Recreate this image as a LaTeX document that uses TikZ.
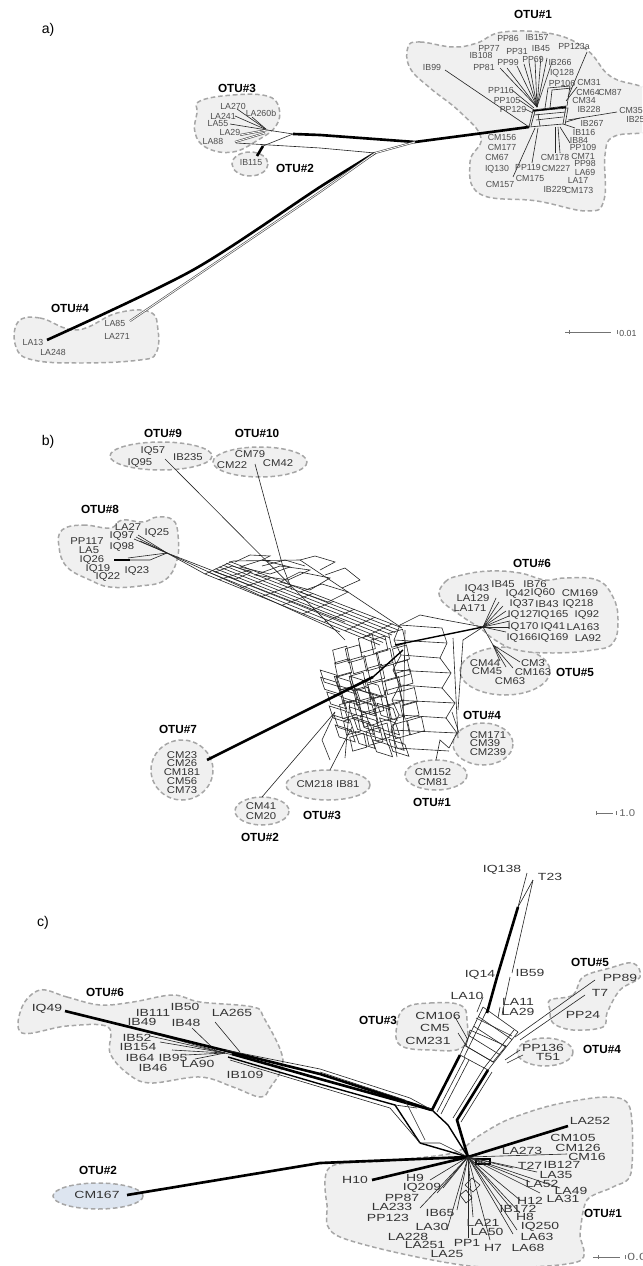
\documentclass[tikz,border=0pt]{standalone}
\usepackage{fontspec}
\setsansfont{Liberation Sans}
\newfontfamily\lblfontA{Liberation Sans}
\newfontfamily\lblfontB[FakeStretch=1.15]{Liberation Sans}
\newfontfamily\lblfontC[FakeStretch=1.35]{Liberation Sans}
\usetikzlibrary{calc}
\definecolor{blobfill}{HTML}{F0F0F0}
\definecolor{blobline}{HTML}{A6A6A6}
\definecolor{labeltxt}{HTML}{333333}
\definecolor{labeltxta}{HTML}{4D4D4D}
\definecolor{otutwofill}{HTML}{DDE5F0}

\begin{document}
\begin{tikzpicture}[
    x=0.02cm, y=-0.02cm,
    blob/.style={draw=blobline, fill=blobfill, line width=0.85pt,
                 dash pattern=on 2.6pt off 1.6pt},
    la/.style={font=\lblfontA\fontsize{5}{5}\selectfont, text=labeltxta, inner sep=0pt},
    lb/.style={font=\lblfontB\fontsize{5.6}{5.6}\selectfont, text=labeltxt, inner sep=0pt},
    lc/.style={font=\lblfontC\fontsize{5.9}{5.9}\selectfont, text=labeltxt, inner sep=0pt},
    otu/.style={font=\sffamily\bfseries\fontsize{6.7}{6.7}\selectfont, inner sep=0pt},
    panel/.style={font=\sffamily\fontsize{8}{8}\selectfont, inner sep=0pt},
    ln/.style={line width=0.35pt, draw=black!85},
    mid/.style={line width=0.8pt, draw=black},
    thk/.style={line width=1.5pt, draw=black},
    dbl/.style={line width=0.35pt, draw=black!70, double=white, double distance=0.45pt},
    scalebar/.style={line width=0.4pt, draw=black!55},
]
\useasboundingbox (0,0) rectangle (642,1266);
\clip (0,0) rectangle (642,1266);

% ===================== a) =====================
\node[panel] (a-tag) at (48,30) {a)};

% -- groups --
\draw[blob] plot[smooth cycle, tension=0.7] coordinates {(408,47)(420,42)(453,47)(477,43)(503,32)(553,34)(587,50)(610,76)(640,86)(665,95)(665,130)(642,133)(613,137)(605,155)(604,200)(587,211)(537,201)(480,194)(470,162)(481,138)(460,112)(430,88)(410,68)};
\draw[blob] plot[smooth cycle, tension=0.7] coordinates {(200,101)(233,95)(267,96)(279,108)(276,126)(258,140)(233,152)(207,148)(195,133)(197,113)};
\draw[blob] (250,164) ellipse [x radius=18, y radius=12];
\draw[blob] plot[smooth cycle, tension=0.7] coordinates {(18,322)(40,318)(77,330)(117,313)(150,312)(158,330)(156,353)(140,360)(83,363)(33,360)(16,347)};

% -- network --
\coordinate (a-h3) at (267,130);
\coordinate (a-j1) at (293,134);
\coordinate (a-j2) at (415,142);
\coordinate (a-j3) at (375,153);
\coordinate (a-h1) at (529,127);
\coordinate (a-h4) at (47,340);
\coordinate (a-k2) at (263,146);

\draw[ln] (237,109) -- (a-h3);
\draw[ln] (235,116) -- (a-h3);
\draw[ln] (230,124) -- (a-h3);
\draw[ln] (252,117) -- (a-h3);
\draw[dbl] (240,135) -- (a-h3);
\draw[dbl] (235,142) -- (265,133);
\draw[ln] (a-h3) -- (a-j1);
\draw[thk] (a-j1) -- (320,135) -- (a-j2) -- (a-h1);
\draw[ln] (236,143) -- (320,148) -- (a-j3);
\draw[dbl] (a-j3) -- (a-j2);
\draw[thk] (257,156) -- (a-k2);
\draw[ln] (a-k2) -- (a-j1);
\draw[thk] plot[smooth] coordinates {(a-h4) (193,270) (320,187) (a-j3)};
\draw[dbl] (130,321) -- (320,192) -- (a-j3);

% -- OTU#1 reticulation --
\draw[ln] (a-h1) -- (533,110) -- (566,106) -- (563,124) -- cycle;
\draw[ln] (531,126) -- (535,111) -- (568,108) -- (565,125);
\draw[ln] (545,108) -- (548,88) -- (570,86) -- (567,106);
\draw[ln] (550,108) -- (552,90) -- (572,88);
\draw[ln] (536,120) -- (563,117);
\draw[ln] (534,115) -- (566,112);
\draw[ln] (540,126) -- (538,114);
\draw[mid] (533,111) -- (566,107);
\draw[ln] (445,70) -- (a-h1);
\foreach \p in {(500,68),(507,68),(517,66),(524,64),(529,62),(535,60),(541,56),(547,58),(552,62)}
  \draw[ln] \p -- (537,107);
\draw[ln] (512,90) -- (534,108);
\draw[ln] (519,100) -- (534,110);
\draw[ln] (525,109) -- (533,113);
\draw[ln] (587,52) -- (568,97);
\draw[ln] (577,87) -- (566,101);
\draw[ln] (617,112) -- (568,120);
\draw[ln] (580,118) -- (566,122);
\draw[ln] (575,128) -- (563,124);
\draw[ln] (513,177) -- (535,128);
\draw[ln] (532,163) -- (538,128);
\draw[ln] (555,153) -- (555,127);
\draw[ln] (560,153) -- (558,127);
\draw[ln] (570,143) -- (560,127);

% -- labels --
\node[otu] (a-otu1) at (533,14) {OTU\#1};
\node[otu] (a-otu2) at (295,168) {OTU\#2};
\node[otu] (a-otu3) at (237,88) {OTU\#3};
\node[otu] (a-otu4) at (70,308) {OTU\#4};
\node[la] (a-LA270) at (233,106) {LA270};
\node[la] (a-LA260b) at (261,113) {LA260b};
\node[la] (a-LA241) at (223,116) {LA241};
\node[la] (a-LA55) at (218,124) {LA55};
\node[la] (a-LA29) at (230,132) {LA29};
\node[la] (a-LA88) at (213,141) {LA88};
\node[la] (a-IB115) at (251,163) {IB115};
\node[la] (a-LA13) at (33,342) {LA13};
\node[la] (a-LA248) at (53,352) {LA248};
\node[la] (a-LA85) at (115,323) {LA85};
\node[la] (a-LA271) at (117,336) {LA271};
\node[la] (a-PP86) at (508,38) {PP86};
\node[la] (a-IB157) at (537,38) {IB157};
\node[la] (a-PP77) at (489,48) {PP77};
\node[la] (a-PP31) at (517,51) {PP31};
\node[la] (a-IB45) at (541,49) {IB45};
\node[la] (a-PP123a) at (574,46) {PP123a};
\node[la] (a-IB108) at (481,55) {IB108};
\node[la] (a-PP99) at (508,62) {PP99};
\node[la] (a-PP69) at (533,59) {PP69};
\node[la] (a-IB266) at (560,62) {IB266};
\node[la] (a-PP81) at (484,67) {PP81};
\node[la] (a-IB99) at (432,67) {IB99};
\node[la] (a-IQ128) at (562,73) {IQ128};
\node[la] (a-PP106) at (562,83) {PP106};
\node[la] (a-CM31) at (589,82) {CM31};
\node[la] (a-PP116) at (501,90) {PP116};
\node[la] (a-CM64) at (588,92) {CM64};
\node[la] (a-CM87) at (610,92) {CM87};
\node[la] (a-PP105) at (507,100) {PP105};
\node[la] (a-CM34) at (584,100) {CM34};
\node[la] (a-PP129) at (513,109) {PP129};
\node[la] (a-IB228) at (589,109) {IB228};
\node[la] (a-CM35) at (631,110) {CM35};
\node[la, anchor=west] (a-IB25) at (626,119) {IB25};
\node[la] (a-IB267) at (592,123) {IB267};
\node[la] (a-IB116) at (584,132) {IB116};
\node[la] (a-CM156) at (502,137) {CM156};
\node[la] (a-IB84) at (579,140) {IB84};
\node[la] (a-CM177) at (502,147) {CM177};
\node[la] (a-PP109) at (583,147) {PP109};
\node[la] (a-CM67) at (497,157) {CM67};
\node[la] (a-CM178) at (555,157) {CM178};
\node[la] (a-CM71) at (583,156) {CM71};
\node[la] (a-PP98) at (585,163.5) {PP98};
\node[la] (a-IQ130) at (497,169) {IQ130};
\node[la] (a-PP119) at (528,167) {PP119};
\node[la] (a-CM227) at (556,168) {CM227};
\node[la] (a-LA69) at (585,172) {LA69};
\node[la] (a-CM175) at (530,178) {CM175};
\node[la] (a-LA17) at (578,180.5) {LA17};
\node[la] (a-CM157) at (500,184) {CM157};
\node[la] (a-IB229) at (555,189) {IB229};
\node[la] (a-CM173) at (579,190) {CM173};

% -- scale --
\coordinate (a-s0) at (565,332);
\coordinate (a-s1) at (611,332);
\draw[scalebar] (a-s0) -- (a-s1);
\draw[scalebar] (569,330) -- (569,334);
\draw[scalebar] (617,330) -- (617,334);
\node[la, anchor=west] (a-scale) at (619,333) {0.01};

% ===================== b) =====================
\node[panel] (b-tag) at (48,442) {b)};

% -- groups --
\draw[blob] (161,456) ellipse [x radius=51, y radius=14];
\draw[blob] (260,462) ellipse [x radius=47, y radius=15];
\draw[blob] plot[smooth cycle, tension=0.7] coordinates {(62,530)(83,525)(110,528)(122,520)(143,522)(157,517)(173,520)(178,535)(177,560)(165,580)(140,586)(110,587)(90,580)(67,567)(59,547)};
\draw[blob] (182,770) ellipse [x radius=31, y radius=30];
\draw[blob] (262,811) ellipse [x radius=27, y radius=14];
\draw[blob] (328,785) ellipse [x radius=42, y radius=15];
\draw[blob] (436,775) ellipse [x radius=31, y radius=15];
\draw[blob] (483,744) ellipse [x radius=30, y radius=21];
\draw[blob] (505,671) ellipse [x radius=45, y radius=24];
\draw[blob] plot[smooth cycle, tension=0.7] coordinates {(440,598)(445,582)(462,575)(490,571)(520,573)(545,580)(565,578)(597,580)(613,597)(618,620)(613,643)(593,650)(553,653)(517,650)(495,640)(480,628)(460,615)};

% -- network --
\coordinate (b-h8) at (167,553);
\coordinate (b-h6) at (483,627);
\coordinate (b-h5) at (493,645);
\coordinate (b-h7) at (207,760);

% OTU#8 fan
\foreach \p in {(136,537),(138,535),(134,539),(140,541)}
  \draw[ln] \p -- (b-h8);
\draw[ln] (114,560) -- (150,560) -- (b-h8);
\draw[ln] (128,558) -- (b-h8);
\draw[mid] (114,560) -- (130,560);
\draw[ln] (b-h8) -- (205,574);
\draw[ln] (b-h8) -- (345,622);
\draw[ln] (b-h8) -- (340,632);

% long band
\draw[ln] (205,574) -- (380,645);
\draw[ln] (205,574) -- (233,561) -- (300,560) -- (402,628);
\foreach \k in {1,...,7}
  \draw[ln] ($(205,574)+\k*(3.5,-1.8)$) -- ($(380,645)+\k*(3,-2.5)$);
\foreach \t [evaluate=\t as \u using \t+0.05] in {0.08,0.2,0.32,0.44,0.56,0.68,0.8,0.9}
  \draw[ln] ($(205,574)!\t!(380,645)$) -- ($(229,561)!\u!(401,627)$);
\draw[ln] (240,567) -- (262,560) -- (290,567) -- (270,574) -- cycle;
\draw[ln] (255,575) -- (280,566) -- (310,570) -- (288,580) -- cycle;
\draw[ln] (280,582) -- (300,572) -- (330,578) -- (310,590) -- cycle;
\draw[ln] (235,562) -- (250,555) -- (270,556) -- (262,560);
\draw[ln] (300,560) -- (315,556) -- (335,562) -- (320,570);
\draw[ln] (215,572) -- (232,566) -- (252,572) -- (236,579) -- cycle;
\draw[ln] (300,592) -- (322,584) -- (348,592) -- (328,602) -- cycle;
\draw[ln] (262,566) -- (285,560) -- (305,566);
\draw[ln] (325,575) -- (345,568) -- (360,580) -- (342,588);

% OTU#9 / OTU#10
\draw[ln] (165,459) -- (345,640);
\draw[ln] (255,464) -- (283,567) -- (292,590);

% central mesh
\pgfmathsetseed{11}
\foreach \i in {0,...,4}
  \foreach \j in {0,...,6} {
    \pgfmathsetmacro\dx{4*rand}
    \pgfmathsetmacro\dy{4*rand}
    \draw[ln] ($(330,650)+\i*(14,-4)+\j*(3,14)+(\dx,\dy)$) -- ++(14,-4) -- ++(3,14) -- ++(-14,4) -- cycle;
  }
\foreach \i in {0,...,3}
  \foreach \j in {0,...,5} {
    \pgfmathsetmacro\dx{4*rand}
    \pgfmathsetmacro\dy{4*rand}
    \draw[ln] ($(318,668)+\i*(16,5)+\j*(4,12)+(\dx,\dy)$) -- ++(16,5) -- ++(4,12) -- ++(-16,-5) -- cycle;
  }
\draw[ln] (335,712) -- (322,740) -- (330,760);
\draw[ln] (350,700) -- (345,758);
\draw[ln] (385,690) -- (397,757);

% ladder
\draw[ln] (400,625) -- (394,640) -- (401,655) -- (393,670) -- (400,685) -- (392,700) -- (399,715) -- (391,730) -- (397,748);
\draw[ln] (405,630) -- (403,745);
\draw[ln] (442,628) -- (447,643) -- (440,658) -- (451,673) -- (442,688) -- (455,703) -- (446,718) -- (457,733) -- (449,748);
\draw[ln] (453,638) -- (458,738);
\foreach \xl/\xr/\yy in {400/442/625, 394/447/640, 401/440/655, 393/451/670, 400/442/685, 392/455/700, 399/446/715, 391/457/730, 397/449/748}
  \draw[ln] (\xl,\yy) -- (\xr,\yy+3);
\draw[ln] (400,625) -- (420,615) -- (445,620) -- (b-h6);
\draw[mid] (395,645) -- (b-h6);
\draw[ln] (b-h6) -- (463,640) -- (458,710);
\draw[thk] (b-h7) -- (373,677);
\draw[mid] (373,677) -- (403,650);

% lines to lower groups
\draw[ln] (262,797) -- (335,712);
\draw[ln] (330,770) -- (352,727);
\draw[ln] (436,760) -- (440,740) -- (449,748);
\draw[ln] (459,733) -- (452,712);

% OTU#5 / OTU#6
\draw[ln] (b-h6) -- (b-h5);
\foreach \p in {(520,662),(513,668),(506,667),(500,661)}
  \draw[ln] (b-h5) -- \p;
\foreach \p in {(496,598),(499,602),(503,606),(506,611),(509,616),(510,621),(509,627),(506,632)}
  \draw[ln] (b-h6) -- \p;

% -- labels --
\node[otu] (b-otu9) at (163,433) {OTU\#9};
\node[otu] (b-otu10) at (257,433) {OTU\#10};
\node[otu] (b-otu8) at (100,509) {OTU\#8};
\node[otu] (b-otu7) at (178,729) {OTU\#7};
\node[otu] (b-otu2) at (260,837) {OTU\#2};
\node[otu] (b-otu3) at (322,815) {OTU\#3};
\node[otu] (b-otu1) at (432,802) {OTU\#1};
\node[otu] (b-otu4) at (482,715) {OTU\#4};
\node[otu] (b-otu5) at (575,672) {OTU\#5};
\node[otu] (b-otu6) at (532,563) {OTU\#6};
\node[lb] (b-IQ57) at (153,451) {IQ57};
\node[lb] (b-IB235) at (188,457) {IB235};
\node[lb] (b-IQ95) at (140,463) {IQ95};
\node[lb] (b-CM79) at (250,454) {CM79};
\node[lb] (b-CM22) at (232,465) {CM22};
\node[lb] (b-CM42) at (278,463) {CM42};
\node[lb] (b-LA27) at (128,527) {LA27};
\node[lb] (b-IQ25) at (157,533) {IQ25};
\node[lb] (b-IQ97) at (122,536) {IQ97};
\node[lb] (b-PP117) at (87,541) {PP117};
\node[lb] (b-IQ98) at (122,547) {IQ98};
\node[lb] (b-LA5) at (89,550) {LA5};
\node[lb] (b-IQ26) at (92,560) {IQ26};
\node[lb] (b-IQ19) at (98,569) {IQ19};
\node[lb] (b-IQ23) at (137,571) {IQ23};
\node[lb] (b-IQ22) at (108,577) {IQ22};
\node[lb] (b-CM23) at (182,755) {CM23};
\node[lb] (b-CM26) at (182,763) {CM26};
\node[lb] (b-CM181) at (182,772) {CM181};
\node[lb] (b-CM56) at (182,781) {CM56};
\node[lb] (b-CM73) at (182,790) {CM73};
\node[lb] (b-CM41) at (261,806) {CM41};
\node[lb] (b-CM20) at (261,816) {CM20};
\node[lb] (b-CM218) at (328,784) {CM218 IB81};
\node[lb] (b-CM152) at (433,772) {CM152};
\node[lb] (b-CM81) at (433,782) {CM81};
\node[lb] (b-CM171) at (488,735) {CM171};
\node[lb] (b-CM39) at (485,743) {CM39};
\node[lb] (b-CM239) at (488,752) {CM239};
\node[lb] (b-CM44) at (485,663) {CM44};
\node[lb] (b-CM3) at (533,663) {CM3};
\node[lb] (b-CM45) at (487,671) {CM45};
\node[lb] (b-CM163) at (533,672) {CM163};
\node[lb] (b-CM63) at (510,681) {CM63};
\node[lb] (b-IQ43) at (477,589) {IQ43};
\node[lb] (b-IB45) at (503,584) {IB45};
\node[lb] (b-IB76) at (535,584) {IB76};
\node[lb] (b-IQ42) at (518,594) {IQ42};
\node[lb] (b-IQ60) at (543,593) {IQ60};
\node[lb] (b-CM169) at (580,593) {CM169};
\node[lb] (b-LA129) at (473,598) {LA129};
\node[lb] (b-IQ37) at (522,604) {IQ37};
\node[lb] (b-IB43) at (547,604) {IB43};
\node[lb] (b-IQ218) at (578,604) {IQ218};
\node[lb] (b-LA171) at (470,608) {LA171};
\node[lb] (b-IQ127) at (523,615) {IQ127};
\node[lb] (b-IQ165) at (553,615) {IQ165};
\node[lb] (b-IQ92) at (587,615) {IQ92};
\node[lb] (b-IQ170) at (523,627) {IQ170};
\node[lb] (b-IQ41) at (553,627) {IQ41};
\node[lb] (b-LA163) at (583,627) {LA163};
\node[lb] (b-IQ166) at (522,638) {IQ166};
\node[lb] (b-IQ169) at (553,638) {IQ169};
\node[lb] (b-LA92) at (588,638) {LA92};

% -- scale --
\draw[scalebar] (596,813) -- (613,813);
\draw[scalebar] (596,811) -- (596,815);
\draw[scalebar] (616,811) -- (616,815);
\node[lb, text=black!60, anchor=west] (b-scale) at (619,813) {1.0};

% ===================== c) =====================
\node[panel] (c-tag) at (43,923) {c)};

% -- groups --
\draw[blob] plot[smooth cycle, tension=0.6] coordinates {(40,990)(67,997)(100,1005)(133,1002)(173,995)(200,1002)(253,1007)(264,1018)(283,1060)(270,1088)(260,1097)(233,1087)(200,1077)(150,1083)(127,1073)(110,1053)(108,1027)(67,1026)(22,1033)(22,1007)};
\draw[blob, fill=otutwofill] (98,1196) ellipse [x radius=45, y radius=13];
\draw[blob] plot[smooth cycle, tension=0.7] coordinates {(405,1008)(430,1003)(460,1005)(467,1020)(463,1047)(430,1050)(400,1045)(397,1025)};
\draw[blob] plot[smooth cycle, tension=0.6] coordinates {(550,1000)(573,995)(583,977)(610,968)(633,963)(640,977)(620,990)(607,1013)(603,1027)(573,1030)(553,1023)(550,1010)};
\draw[blob] (545,1052) ellipse [x radius=28, y radius=14];
\draw[blob] plot[smooth cycle, tension=0.5] coordinates {(330,1167)(387,1161)(453,1153)(477,1137)(507,1120)(553,1105)(607,1097)(630,1108)(631,1173)(613,1187)(587,1200)(580,1233)(577,1262)(470,1266)(340,1237)(327,1205)};

% -- network --
\coordinate (c-j1) at (432,1110);
\coordinate (c-j2) at (420,1143);
\coordinate (c-h1) at (468,1157);

% OTU#6 fan
\foreach \p in {(140,1030),(150,1036),(160,1042),(172,1050),(185,1055),(195,1059)}
  \draw[ln] \p -- (225,1053);
\draw[ln] (192,1028) -- (215,1050);
\draw[ln] (215,1022) -- (240,1052);
\draw[ln] (225,1053) -- (245,1058);

% bundle to centre
\draw[thk] (65,1011) -- (320,1074) -- (c-j1);
\draw[thk] (232,1054) -- (320,1079) -- (c-j1);
\draw[mid] (228,1057) -- (320,1084) -- (395,1105) -- (c-j2);
\draw[ln] (225,1050) -- (320,1069) -- (410,1098) -- (c-j1);
\draw[ln] (230,1060) -- (320,1087) -- (390,1108) -- (c-j2);
\draw[ln] (320,1072) -- (405,1100) -- (425,1140);
\draw[ln] (395,1105) -- (417,1108);
\draw[mid] (c-j2) -- (c-h1);
\draw[ln] (c-j2) -- (440,1143) -- (c-h1);

% vertical bundle
\draw[thk] (c-j1) -- (460,1055);
\draw[ln] (437,1112) -- (465,1058);
\draw[ln] (441,1114) -- (469,1060);
\draw[thk] (488,1070) -- (457,1120) -- (462,1137) -- (c-h1);
\draw[ln] (484,1068) -- (453,1118);
\draw[ln] (492,1072) -- (461,1122);
\draw[mid] (c-j1) -- (448,1125) -- (c-h1);
\draw[ln] (483,1007) -- (460,1055);
\draw[ln] (487,1010) -- (464,1057);
\draw[ln] (518,1032) -- (488,1070);
\draw[ln] (514,1030) -- (484,1068);
\foreach \t in {0,0.2,0.4,0.6,0.8,1}
  \draw[ln] ($(483,1007)!\t!(460,1055)$) -- ($(518,1032)!\t!(488,1070)$);
\draw[ln] (470,1030) -- (506,1046) -- (493,1062) -- (466,1046) -- cycle;
\draw[ln] (476,1018) -- (512,1036);

% upper branches
\draw[thk] (487,1013) -- (497,977) -- (518,907);
\draw[ln] (518,907) -- (527,873);
\draw[ln] (518,907) -- (533,880);
\draw[ln] (512,973) -- (533,880);
\draw[ln] (510,977) -- (502,1015);
\draw[ln] (483,997) -- (477,1012);
\draw[ln] (500,1007) -- (498,1018);
\draw[ln] (455,1017) -- (468,1040);
\draw[ln] (458,1033) -- (467,1047);
\draw[ln] (595,980) -- (515,1037);
\draw[ln] (585,995) -- (520,1040);
\draw[ln] (520,1050) -- (505,1060);
\draw[ln] (523,1055) -- (507,1063);

% OTU#1 fan
\draw[thk] (c-h1) -- (568,1126);
\draw[thk] (372,1180) -- (c-h1);
\draw[thk] (127,1195) -- (320,1163) -- (c-h1);
\draw[mid] (476,1159) rectangle (490,1164);
\foreach \p in {(567,1154),(513,1168),(537,1172),(530,1182),(560,1188),(540,1193),(520,1200),(510,1207),(520,1213),(517,1230),(513,1234),(490,1240),(473,1217),(468,1238),(447,1230),(457,1210),(420,1208),(437,1193),(443,1188),(430,1180)}
  \draw[ln] (c-h1) -- \p;
\draw[ln] (465,1185) -- (472,1178) -- (480,1185) -- (473,1192) -- cycle;
\draw[ln] (460,1195) -- (466,1190) -- (472,1198) -- (466,1203) -- cycle;

% -- labels --
\node[otu] (c-otu6) at (105,992) {OTU\#6};
\node[otu] (c-otu2) at (98,1170) {OTU\#2};
\node[otu] (c-otu3) at (378,1020) {OTU\#3};
\node[otu] (c-otu5) at (590,962) {OTU\#5};
\node[otu] (c-otu4) at (602,1049) {OTU\#4};
\node[otu] (c-otu1) at (603,1213) {OTU\#1};
\node[lc] (c-IQ49) at (47,1009) {IQ49};
\node[lc] (c-IB50) at (185,1007) {IB50};
\node[lc] (c-IB111) at (153,1013) {IB111};
\node[lc] (c-LA265) at (232,1013) {LA265};
\node[lc] (c-IB49) at (142,1022) {IB49};
\node[lc] (c-IB48) at (186,1023) {IB48};
\node[lc] (c-IB52) at (137,1038) {IB52};
\node[lc] (c-IB154) at (138,1047) {IB154};
\node[lc] (c-IB64) at (140,1058) {IB64};
\node[lc] (c-IB95) at (173,1058) {IB95};
\node[lc] (c-LA90) at (198,1064) {LA90};
\node[lc] (c-IB46) at (153,1068) {IB46};
\node[lc] (c-IB109) at (245,1075) {IB109};
\node[lc] (c-CM167) at (97,1195) {CM167};
\node[lc] (c-IQ138) at (502,870) {IQ138};
\node[lc] (c-T23) at (550,877) {T23};
\node[lc] (c-IQ14) at (480,975) {IQ14};
\node[lc] (c-IB59) at (530,973) {IB59};
\node[lc] (c-LA10) at (467,996) {LA10};
\node[lc] (c-LA11) at (518,1002) {LA11};
\node[lc] (c-LA29) at (518,1012) {LA29};
\node[lc] (c-PP89) at (620,978) {PP89};
\node[lc] (c-T7) at (600,993) {T7};
\node[lc] (c-PP24) at (583,1015) {PP24};
\node[lc] (c-CM106) at (438,1016) {CM106};
\node[lc] (c-CM5) at (435,1028) {CM5};
\node[lc] (c-CM231) at (428,1041) {CM231};
\node[lc] (c-PP136) at (543,1048) {PP136};
\node[lc] (c-T51) at (548,1057) {T51};
\node[lc] (c-LA252) at (590,1121) {LA252};
\node[lc] (c-CM105) at (573,1138) {CM105};
\node[lc] (c-CM126) at (578,1148) {CM126};
\node[lc] (c-LA273) at (522,1151) {LA273};
\node[lc] (c-CM16) at (587,1157) {CM16};
\node[lc] (c-T27) at (530,1166) {T27};
\node[lc] (c-IB127) at (562,1165) {IB127};
\node[lc] (c-H10) at (355,1180) {H10};
\node[lc] (c-H9) at (415,1178) {H9};
\node[lc] (c-LA35) at (556,1175) {LA35};
\node[lc] (c-IQ209) at (422,1188) {IQ209};
\node[lc] (c-LA52) at (542,1184) {LA52};
\node[lc] (c-LA49) at (571,1191) {LA49};
\node[lc] (c-PP87) at (402,1198) {PP87};
\node[lc] (c-H12) at (530,1201) {H12};
\node[lc] (c-LA31) at (563,1199) {LA31};
\node[lc] (c-LA233) at (392,1207) {LA233};
\node[lc] (c-IB172) at (518,1209) {IB172};
\node[lc] (c-PP123) at (388,1218) {PP123};
\node[lc] (c-IB65) at (440,1213) {IB65};
\node[lc] (c-H8) at (525,1217) {H8};
\node[lc] (c-LA30) at (432,1227) {LA30};
\node[lc] (c-LA21) at (483,1223) {LA21};
\node[lc] (c-IQ250) at (540,1227) {IQ250};
\node[lc] (c-LA228) at (408,1237) {LA228};
\node[lc] (c-LA50) at (487,1232) {LA50};
\node[lc] (c-LA63) at (537,1237) {LA63};
\node[lc] (c-LA251) at (425,1245) {LA251};
\node[lc] (c-PP1) at (467,1243) {PP1};
\node[lc] (c-H7) at (493,1248) {H7};
\node[lc] (c-LA68) at (528,1248) {LA68};
\node[lc] (c-LA25) at (447,1254) {LA25};

% -- scale --
\draw[scalebar] (593,1257) -- (620,1257);
\draw[scalebar] (598,1255) -- (598,1259);
\draw[scalebar] (625,1255) -- (625,1259);
\node[lc, text=black!60, anchor=west] (c-scale) at (627,1257) {0.0};

\end{tikzpicture}
\end{document}
